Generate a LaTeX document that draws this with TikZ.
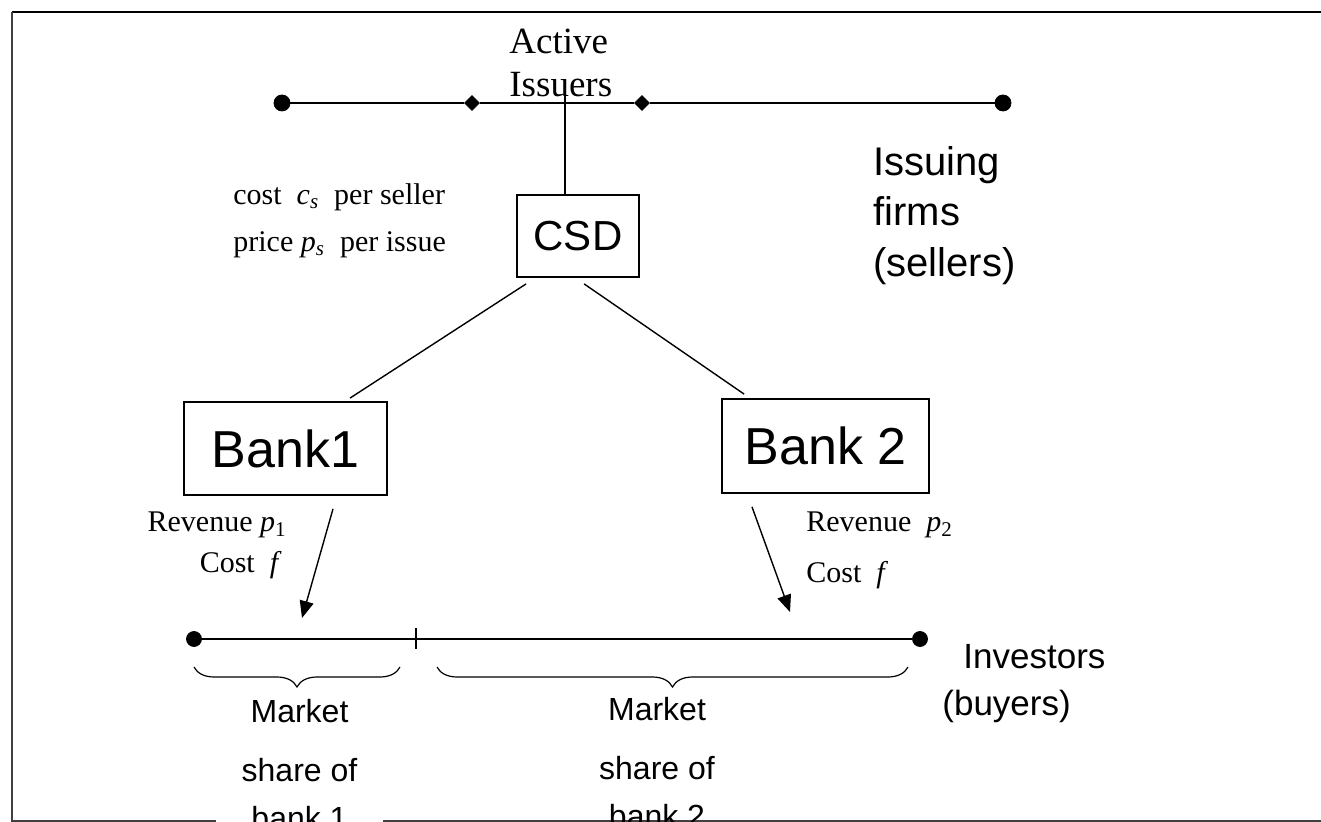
\documentclass[tikz,border=0pt]{standalone}
\usepackage{fontspec}
\setmainfont{Liberation Serif}
\setsansfont{Liberation Sans}
\usetikzlibrary{calc,shapes.geometric,arrows.meta,decorations.pathreplacing}

\begin{document}
\begin{tikzpicture}[x=0.5pt,y=-0.5pt,
    dot/.style={draw,circle,fill,inner sep=0pt,minimum size=8pt},
    tick/.style={draw,diamond,fill,inner sep=0pt,minimum size=7.5pt},
    box/.style={draw,line width=0.9pt,font=\sffamily,inner sep=0pt},
    lab/.style={font=\fontsize{15}{20}\selectfont,inner sep=0pt},
    share/.style={font=\sffamily\fontsize{16}{29.5}\selectfont,align=center,inner sep=0pt,anchor=north},
    arr/.style={line width=0.7pt,-{Triangle[length=8.5pt,width=7pt]}},
    brc/.style={line width=0.6pt,decorate,decoration={brace,mirror,amplitude=10pt}}]

      \useasboundingbox (0,0) rectangle (1321,822);
      \draw[line width=1pt] (12,12) -- (1321,12);
      \draw[line width=0.8pt,black!75] (12,12) -- (12,821) -- (1321,821);

      \node (S0) at (282,103) [dot] {};
      \node (S1) at (472,103) [tick] {};
      \node (S2) at (642,103) [tick] {};
      \node (S3) at (1003,103) [dot] {};
      \draw[line width=1.3pt] (S0) -- (S1) -- (S2) -- (S3);
      \node (act) at (509,29) [anchor=north west, align=left, inner sep=0pt,
        font=\fontsize{18.5}{21.5}\selectfont] {Active\\Issuers};

      \node (CSD) at (578,236) [box, minimum width=61pt, minimum height=41pt,
        font=\sffamily\fontsize{21}{25}\selectfont] {CSD};
      \coordinate (top) at (565,96);
      \draw[line width=0.7pt] (top) -- (top |- CSD.north);

      \node (cost) at (233,183) [lab, anchor=north west, align=left,
        font=\fontsize{15}{23.5}\selectfont]
        {cost\ \ \textit{c}\textsubscript{\textit{s}}\ \ per seller\\
         price \textit{p}\textsubscript{\textit{s}}\ \ per issue};
      \node (iss) at (873,146) [anchor=north west, align=left, inner sep=0pt,
        font=\sffamily\fontsize{20}{25.25}\selectfont] {Issuing\\firms\\(sellers)};

      \node (B1) at (285.5,448.5) [box, minimum width=101.5pt, minimum height=46.5pt,
        font=\sffamily\fontsize{26}{30}\selectfont] {Bank1};
      \node (B2) at (825.5,446) [box, minimum width=103.5pt, minimum height=47pt,
        font=\sffamily\fontsize{26}{30}\selectfont] {Bank 2};
      \draw[line width=0.7pt] ($(CSD.south west)+(10,6)$) -- ($(B1.north)+(64.5,-3)$);
      \draw[line width=0.7pt] ($(CSD.south west)+(68,6)$) -- ($(B2.north west)+(23,-4)$);

      \coordinate (a1) at (302,618);
      \coordinate (a2) at (790,612);
      \draw[arr] ($(B1.south)+(47.5,13)$) -- (a1);
      \draw[arr] ($(B2.south)+(-73.5,13)$) -- (a2);
      \node (rev1) at (287,532) [lab, anchor=base east] {Revenue \textit{p}\textsubscript{1}};
      \node (cst1) at (282,573) [lab, anchor=base east] {Cost\ \ \textit{f}};
      \node (rev2) at (806,532) [lab, anchor=base west] {Revenue\ \ \textit{p}\textsubscript{2}};
      \node (cst2) at (806,582) [lab, anchor=base west] {Cost\ \ \textit{f}};

      \node (I0) at (194,639) [dot, minimum size=7.5pt] {};
      \node (I1) at (920,639) [dot, minimum size=7.5pt] {};
      \coordinate (cut) at (416,639);
      \draw[line width=1pt] (I0) -- (I1);
      \draw[line width=1pt] ($(cut)+(0,-11)$) -- ($(cut)+(0,10)$);
      \node (inv) at (963,668) [anchor=base west, inner sep=0pt,
        font=\sffamily\fontsize{17.5}{20}\selectfont] {Investors};
      \node (buy) at (942,715) [anchor=base west, inner sep=0pt,
        font=\sffamily\fontsize{17.5}{20}\selectfont] {(buyers)};

      \coordinate (m0) at (194,667);
      \coordinate (m1) at (400,667);
      \coordinate (m2) at (437,667);
      \coordinate (m3) at (908,667);
      \draw[brc] (m0) -- (m1);
      \draw[brc] (m2) -- (m3);
      \node (mk1) at (299.5,699) [share, fill=white, minimum width=83.5pt] {Market\\share of\\[-5.5pt]bank 1};
      \node (mk2) at (657,697) [share] {Market\\share of\\[-5.5pt]bank 2};

    \end{tikzpicture}
\end{document}
